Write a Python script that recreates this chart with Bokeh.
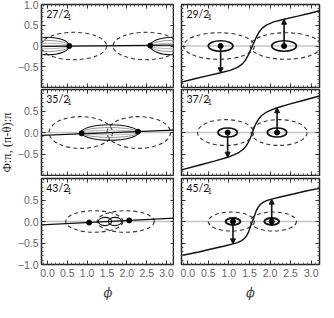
from math import pi
from bokeh.plotting import figure
from bokeh.layouts import row, column
from bokeh.models import (Range1d, FixedTicker, Span, Arrow, NormalHead,
                          ColumnDataSource, LinearAxis, CustomLabelingPolicy)
from bokeh.embed import file_html
from bokeh.resources import INLINE
from bokeh.core.properties import value

# ---------------- axes / ticks ----------------
x_lo, x_hi = -0.15, 3.2
y_lo, y_hi = -1.0, 1.0
x_ticks = [0.0, 0.5, 1.0, 1.5, 2.0, 2.5, 3.0]
x_minor = [-0.1, 0.1, 0.2, 0.3, 0.4, 0.6, 0.7, 0.8, 0.9, 1.1, 1.2, 1.3, 1.4,
           1.6, 1.7, 1.8, 1.9, 2.1, 2.2, 2.3, 2.4, 2.6, 2.7, 2.8, 2.9, 3.1]
y_ticks = [-1.0, -0.5, 0.0, 0.5, 1.0]
y_minor = [-0.9, -0.8, -0.7, -0.6, -0.4, -0.3, -0.2, -0.1,
           0.1, 0.2, 0.3, 0.4, 0.6, 0.7, 0.8, 0.9]
y_labels_top = ["", "\u22120.5", "0", "0.5", "1.0"]
y_labels_mid = ["", "\u22120.5", "0.0", "0.5", ""]
y_labels_bot = ["\u22121.0", "\u22120.5", "0.0", "0.5", ""]
x_tick_labels = ["0.0", "0.5", "1.0", "1.5", "2.0", "2.5", "3.0"]
y_title = "\u03a6:\u03c0, (\u03c0-\u03b8):\u03c0"
x_title = "\u03d5"

panel_names = ["27/2", "29/2", "35/2", "37/2", "43/2", "45/2"]
panel_sub = "1"

# ---------------- 27/2_1 (top left) ----------------
p27_dash_x = [0.66, 2.48]
p27_dash_w = [1.66, 1.66]
p27_dash_h = [0.66, 0.66]
p27_lens_x = [0.0, 0.0, 0.0, 3.14, 3.14, 3.14]
p27_lens_w = [1.1, 1.1, 1.1, 1.1, 1.1, 1.1]
p27_lens_h = [0.42, 0.27, 0.13, 0.42, 0.27, 0.13]
p27_dot_x = [0.55, 2.59]
p27_dot_y = [0.0, 0.01]
p27_phi_x = [-0.15, 3.2]
p27_phi_y = [-0.01, 0.02]

# ---------------- 35/2_1 (middle left) ----------------
p35_dash_x = [0.84, 2.30]
p35_dash_w = [1.6, 1.6]
p35_dash_h = [0.74, 0.74]
p35_lens_x = [1.57, 1.57, 1.57]
p35_lens_w = [1.43, 1.43, 1.43]
p35_lens_h = [0.36, 0.23, 0.11]
p35_dot_x = [0.86, 2.28]
p35_dot_y = [-0.02, 0.02]
p35_phi_x = [-0.15, 3.2]
p35_phi_y = [-0.065, 0.055]

# ---------------- 43/2_1 (bottom left) ----------------
p43_dash_x = [1.18, 1.97]
p43_dash_w = [1.44, 1.44]
p43_dash_h = [0.5, 0.5]
p43_lens_x = [1.45, 1.70]
p43_lens_w = [0.34, 0.34]
p43_lens_h = [0.19, 0.19]
p43_dot_x = [1.05, 2.06]
p43_dot_y = [-0.025, 0.025]
p43_phi_x = [-0.15, 3.2]
p43_phi_y = [-0.08, 0.08]

# ---------------- 29/2_1 (top right) ----------------
p29_dash_x = [0.76, 2.38]
p29_dash_w = [1.72, 1.72]
p29_dash_h = [0.64, 0.64]
p29_small_x = [0.80, 2.34]
p29_small_w = [0.6, 0.6]
p29_small_h = [0.25, 0.25]
p29_arrow_end = [-0.645, 0.645]
p29_curve_x = [-0.15, 0.17, 0.47, 0.80, 1.05, 1.22, 1.33, 1.41, 1.47, 1.52, 1.57,
               1.62, 1.67, 1.73, 1.81, 1.92, 2.09, 2.34, 2.67, 2.97, 3.20]
p29_curve_y = [-0.87, -0.79, -0.72, -0.645, -0.58, -0.51, -0.43, -0.33, -0.22, -0.11, 0.0,
               0.11, 0.22, 0.33, 0.43, 0.51, 0.58, 0.645, 0.72, 0.79, 0.85]

# ---------------- 37/2_1 (middle right) ----------------
p37_dash_x = [0.92, 2.22]
p37_dash_w = [1.36, 1.36]
p37_dash_h = [0.6, 0.6]
p37_small_x = [0.97, 2.17]
p37_small_w = [0.47, 0.47]
p37_small_h = [0.21, 0.21]
p37_arrow_end = [-0.575, 0.575]
p37_curve_x = [-0.15, 0.32, 0.67, 0.97, 1.12, 1.25, 1.35, 1.42, 1.47, 1.51, 1.54, 1.57,
               1.60, 1.63, 1.67, 1.72, 1.79, 1.89, 2.02, 2.17, 2.47, 2.82, 3.20]
p37_curve_y = [-0.87, -0.75, -0.66, -0.575, -0.52, -0.46, -0.39, -0.31, -0.23, -0.15, -0.08, 0.0,
               0.08, 0.15, 0.23, 0.31, 0.39, 0.46, 0.52, 0.575, 0.66, 0.75, 0.85]

# ---------------- 45/2_1 (bottom right) ----------------
p45_dash_x = [1.06, 2.08]
p45_dash_w = [1.12, 1.12]
p45_dash_h = [0.44, 0.44]
p45_small_x = [1.10, 2.04]
p45_small_w = [0.36, 0.36]
p45_small_h = [0.16, 0.16]
p45_arrow_end = [-0.52, 0.52]
p45_curve_x = [-0.15, 0.27, 0.57, 0.87, 1.10, 1.21, 1.30, 1.37, 1.43, 1.48, 1.53, 1.57,
               1.61, 1.66, 1.71, 1.77, 1.84, 1.93, 2.04, 2.27, 2.57, 2.87, 3.20]
p45_curve_y = [-0.79, -0.71, -0.64, -0.575, -0.52, -0.49, -0.45, -0.40, -0.33, -0.24, -0.10, 0.0,
               0.10, 0.24, 0.33, 0.40, 0.45, 0.49, 0.52, 0.575, 0.64, 0.71, 0.77]

lens_colors = ["#111111", "#7a7a7a", "#a5a5a5"]
lens_widths = [1.1, 0.8, 0.8]

TICK_FONT = "Liberation Sans"
NO_LABELS = "return new indices.constructor(indices.size, 0)"


def style_axis(ax, ticks, minor, labels=None, show=True):
    ax.ticker = FixedTicker(ticks=ticks, minor_ticks=minor)
    ax.axis_line_color = None
    ax.major_tick_in = 4
    ax.major_tick_out = 0
    ax.minor_tick_in = 2
    ax.minor_tick_out = 0
    ax.major_tick_line_color = "#333333"
    ax.minor_tick_line_color = "#555555"
    if show:
        ax.major_label_text_font = TICK_FONT
        ax.major_label_text_font_size = "10.5px"
        ax.major_label_text_color = "#666666"
        ax.major_label_standoff = 3
        if labels is not None:
            ax.major_label_overrides = {t: l for t, l in zip(ticks, labels)}
    else:
        ax.major_label_text_font_size = "0px"
        ax.major_label_standoff = 0
        ax.major_label_policy = CustomLabelingPolicy(code=NO_LABELS)


def make_fig(col, r):
    left = col == 0
    fig = figure(frame_width=133 if left else 138,
                 frame_height=[83, 86, 86][r],
                 x_range=Range1d(x_lo, x_hi), y_range=Range1d(y_lo, y_hi),
                 output_backend="svg", toolbar_location=None, title=None,
                 min_border_left=23 if left else 7,
                 min_border_right=0 if left else 2,
                 min_border_top=[4, 0, 2][r],
                 min_border_bottom=[2, 1, 36][r])
    fig.grid.visible = False
    fig.outline_line_color = "#222222"
    fig.outline_line_width = 1.5
    fig.background_fill_color = "white"
    fig.border_fill_color = "white"
    ylabels = [y_labels_top, y_labels_mid, y_labels_bot][r]
    style_axis(fig.yaxis[0], y_ticks, y_minor, ylabels, show=left)
    style_axis(fig.xaxis[0], x_ticks, x_minor, x_tick_labels, show=(r == 2))
    if r == 2:
        fig.xaxis[0].major_label_standoff = 4
        fig.xaxis[0].axis_label = x_title
        fig.xaxis[0].axis_label_text_font = "DejaVu Serif"
        fig.xaxis[0].axis_label_text_font_style = "italic"
        fig.xaxis[0].axis_label_text_font_size = "13px"
        fig.xaxis[0].axis_label_text_color = "#444444"
        fig.xaxis[0].axis_label_standoff = 5
    top_ax = LinearAxis()
    style_axis(top_ax, x_ticks, x_minor, show=False)
    fig.add_layout(top_ax, "above")
    right_ax = LinearAxis()
    style_axis(right_ax, y_ticks, y_minor, show=False)
    fig.add_layout(right_ax, "right")
    fig.add_layout(Span(location=0, dimension="width", line_color="#c4c4c4",
                        line_width=1.6, level="underlay"))
    return fig


def add_label(fig, name):
    fig.text(x=[-0.03], y=[0.78], text=[name], text_font=value("Lato"),
             text_font_size="10.5px", text_baseline="middle", text_align="left",
             text_color="#111111")
    fig.text(x=[-0.03], y=[0.71], text=[panel_sub], x_offset=21, text_font=value("Lato"),
             text_font_size="7.5px", text_baseline="middle", text_align="left",
             text_color="#111111")


def add_dashed(fig, xs, ws, hs):
    fig.ellipse(x=xs, y=[0.0] * len(xs), width=ws, height=hs, fill_color=None,
                fill_alpha=0, line_color="#333333", line_width=1.1, line_dash="4 3")


def left_panel(fig, name, dash, lens, dots, phi, lens_cols, lens_lw):
    add_dashed(fig, *dash)
    lx, lw, lh = lens
    fig.ellipse(x=lx, y=[0.0] * len(lx), width=lw, height=lh, fill_color=None,
                fill_alpha=0, line_color=lens_cols, line_width=lens_lw)
    fig.line(phi[0], phi[1], line_color="#111111", line_width=1.3)
    fig.scatter(dots[0], dots[1], size=5, color="black")
    add_label(fig, name)


def right_panel(fig, name, dash, small, arrow_end, curve, ring_w):
    add_dashed(fig, *dash)
    sx, sw, sh = small
    fig.ellipse(x=sx, y=[0.0] * len(sx), width=sw, height=sh, fill_color=None,
                fill_alpha=0, line_color="#111111", line_width=ring_w)
    fig.line(curve[0], curve[1], line_color="#111111", line_width=1.4)
    src = ColumnDataSource(dict(x=sx, y0=[0.0] * len(sx), y1=arrow_end))
    fig.add_layout(Arrow(end=NormalHead(size=5, fill_color="#111111", line_color="#111111"),
                         x_start="x", y_start="y0", x_end="x", y_end="y1",
                         source=src, line_color="#111111", line_width=1.6))
    fig.scatter(sx, [0.0] * len(sx), size=5, color="black")
    add_label(fig, name)


f27 = make_fig(0, 0)
left_panel(f27, panel_names[0], (p27_dash_x, p27_dash_w, p27_dash_h),
           (p27_lens_x, p27_lens_w, p27_lens_h), (p27_dot_x, p27_dot_y),
           (p27_phi_x, p27_phi_y), lens_colors + lens_colors, lens_widths + lens_widths)
f29 = make_fig(1, 0)
right_panel(f29, panel_names[1], (p29_dash_x, p29_dash_w, p29_dash_h),
            (p29_small_x, p29_small_w, p29_small_h), p29_arrow_end,
            (p29_curve_x, p29_curve_y), 1.6)
f35 = make_fig(0, 1)
left_panel(f35, panel_names[2], (p35_dash_x, p35_dash_w, p35_dash_h),
           (p35_lens_x, p35_lens_w, p35_lens_h), (p35_dot_x, p35_dot_y),
           (p35_phi_x, p35_phi_y), lens_colors, lens_widths)
f37 = make_fig(1, 1)
right_panel(f37, panel_names[3], (p37_dash_x, p37_dash_w, p37_dash_h),
            (p37_small_x, p37_small_w, p37_small_h), p37_arrow_end,
            (p37_curve_x, p37_curve_y), 1.7)
f43 = make_fig(0, 2)
left_panel(f43, panel_names[4], (p43_dash_x, p43_dash_w, p43_dash_h),
           (p43_lens_x, p43_lens_w, p43_lens_h), (p43_dot_x, p43_dot_y),
           (p43_phi_x, p43_phi_y), ["#111111", "#111111"], [1.1, 1.1])
f45 = make_fig(1, 2)
right_panel(f45, panel_names[5], (p45_dash_x, p45_dash_w, p45_dash_h),
            (p45_small_x, p45_small_w, p45_small_h), p45_arrow_end,
            (p45_curve_x, p45_curve_y), 2.0)

ylab = figure(frame_width=14, frame_height=300, x_range=Range1d(0, 1), y_range=Range1d(0, 1),
              output_backend="svg", toolbar_location=None, title=None, min_border=0,
              x_axis_location=None, y_axis_location=None)
ylab.grid.visible = False
ylab.outline_line_color = None
ylab.text(x=[0.45], y=[0.527], text=[y_title], angle=pi / 2, text_align="center",
          text_baseline="middle", text_font=value("Liberation Serif"),
          text_font_size="12.5px", text_color="#222222")

layout = row(ylab, column(row(f27, f29), row(f35, f37), row(f43, f45)))

open("out.html", "w").write(file_html(layout, INLINE))
